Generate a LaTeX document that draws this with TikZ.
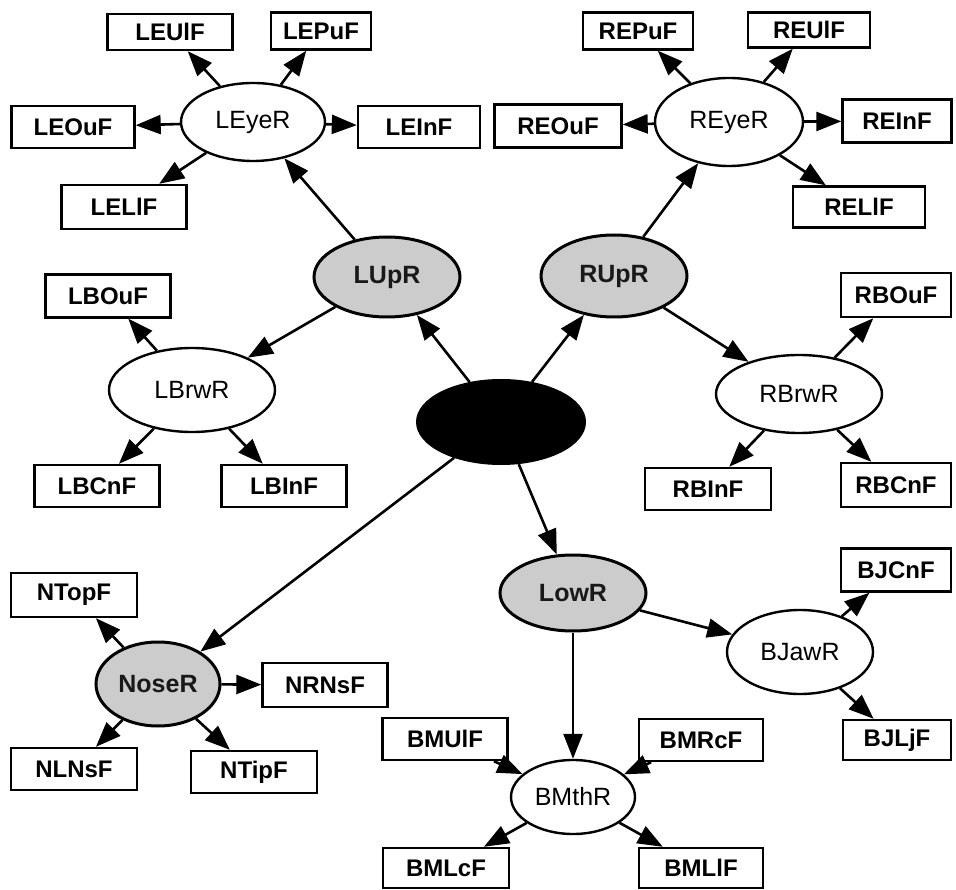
\documentclass[tikz,border=0pt]{standalone}
\usepackage{fontspec}
\setmainfont{Liberation Sans}
\usetikzlibrary{shapes.geometric,arrows.meta}
\tikzset{
  boxnode/.style args={#1/#2}{draw, line width=2.4pt, rectangle, inner sep=0pt,
    minimum width=#1pt, minimum height=#2pt, fill=white,
    font=\fontsize{24}{28}\selectfont\bfseries},
  regnode/.style args={#1/#2}{draw, line width=2.4pt, ellipse, inner sep=0pt,
    minimum width=#1pt, minimum height=#2pt, fill=white,
    font=\fontsize{25}{28}\selectfont},
  grpnode/.style args={#1/#2}{draw, line width=3pt, ellipse, inner sep=0pt,
    minimum width=#1pt, minimum height=#2pt, fill=gray!40, text=black!90,
    font=\fontsize{25}{28}\selectfont\bfseries},
  rootnode/.style args={#1/#2}{draw, line width=2pt, ellipse, inner sep=0pt,
    minimum width=#1pt, minimum height=#2pt, fill=black},
  arr/.style={line width=2.6pt, -{Triangle[length=25pt,width=19pt]}}
}
\begin{document}
\begin{tikzpicture}[x=1pt,y=-1pt]
\useasboundingbox[fill=white] (0,0) rectangle (956,890);
% root
\node[rootnode=168/84] (root) at (501,422) {};
% group nodes
\node[grpnode=146/80] (lup) at (387,277) {LUpR};
\node[grpnode=146/82] (rup) at (614,276) {RUpR};
\node[grpnode=146/76] (low) at (573,593) {LowR};
\node[grpnode=124/84] (nose) at (158,684) {NoseR};
% left eye
\node[regnode=144/78] (leye) at (253,122) {LEyeR};
\node[boxnode=125/36] (leul) at (170,32) {LEUlF};
\node[boxnode=100/37] (lepu) at (321,31) {LEPuF};
\node[boxnode=123/42] (leou) at (73,127) {LEOuF};
\node[boxnode=122/42] (lein) at (419,127) {LEInF};
\node[boxnode=125/44] (lell) at (124,207) {LELlF};
% right eye
\node[regnode=148/88] (reye) at (729,122) {REyeR};
\node[boxnode=110/37] (repu) at (638,31) {REPuF};
\node[boxnode=122/35] (reul) at (809,30) {REUlF};
\node[boxnode=127/43] (reou) at (558,126) {REOuF};
\node[boxnode=109/43] (rein) at (897,121) {REInF};
\node[boxnode=132/41] (rell) at (859,207) {RELlF};
% left brow
\node[regnode=166/84] (lbrw) at (192,390) {LBrwR};
\node[boxnode=125/43] (lbou) at (108,296) {LBOuF};
\node[boxnode=125/42] (lbcn) at (97,486) {LBCnF};
\node[boxnode=125/42] (lbin) at (284,486) {LBInF};
% right brow
\node[regnode=166/78] (rbrw) at (799,394) {RBrwR};
\node[boxnode=110/44] (rbou) at (896,295) {RBOuF};
\node[boxnode=126/42] (rbin) at (708,489) {RBInF};
\node[boxnode=110/44] (rbcn) at (896,485) {RBCnF};
% jaw
\node[regnode=146/84] (jaw) at (800,652) {BJawR};
\node[boxnode=110/43] (bjcn) at (896,570) {BJCnF};
\node[boxnode=108/40] (bjlj) at (897,740) {BJLjF};
% mouth
\node[regnode=124/74] (mth) at (573,797) {BMthR};
\node[boxnode=125/42] (bmul) at (445,739) {BMUlF};
\node[boxnode=124/42] (bmrc) at (701,740) {BMRcF};
\node[boxnode=126/40] (bmlc) at (446,868) {BMLcF};
\node[boxnode=124/40] (bmll) at (701,868) {BMLlF};
% nose
\node[boxnode=126/44] (ntop) at (74,595) {NTopF};
\node[boxnode=125/44] (nrns) at (325,685) {NRNsF};
\node[boxnode=126/42] (nlns) at (74,769) {NLNsF};
\node[boxnode=126/42] (ntip) at (254,772) {NTipF};
% edges
\draw[arr] (root) -- (lup);
\draw[arr] (root) -- (rup);
\draw[arr] (root) -- (low);
\draw[arr] (root) -- (nose);
\draw[arr] (lup) -- (leye);
\draw[arr] (lup) -- (lbrw);
\draw[arr] (rup) -- (reye);
\draw[arr] (rup) -- (rbrw);
\draw[arr] (leye) -- (leul);
\draw[arr] (leye) -- (lepu);
\draw[arr] (leye) -- (leou);
\draw[arr] (leye) -- (lein);
\draw[arr] (leye) -- (lell);
\draw[arr] (reye) -- (repu);
\draw[arr] (reye) -- (reul);
\draw[arr] (reye) -- (reou);
\draw[arr] (reye) -- (rein);
\draw[arr] (reye) -- (rell);
\draw[arr] (lbrw) -- (lbou);
\draw[arr] (lbrw) -- (lbcn);
\draw[arr] (lbrw) -- (lbin);
\draw[arr] (rbrw) -- (rbou);
\draw[arr] (rbrw) -- (rbin);
\draw[arr] (rbrw) -- (rbcn);
\draw[arr] (low) -- (jaw);
\draw[arr] (low) -- (mth);
\draw[arr] (jaw) -- (bjcn);
\draw[arr] (jaw) -- (bjlj);
\draw[arr] (bmul) -- (mth);
\draw[arr] (bmrc) -- (mth);
\draw[arr] (mth) -- (bmlc);
\draw[arr] (mth) -- (bmll);
\draw[arr] (nose) -- (ntop);
\draw[arr] (nose) -- (nrns);
\draw[arr] (nose) -- (nlns);
\draw[arr] (nose) -- (ntip);
\end{tikzpicture}
\end{document}
